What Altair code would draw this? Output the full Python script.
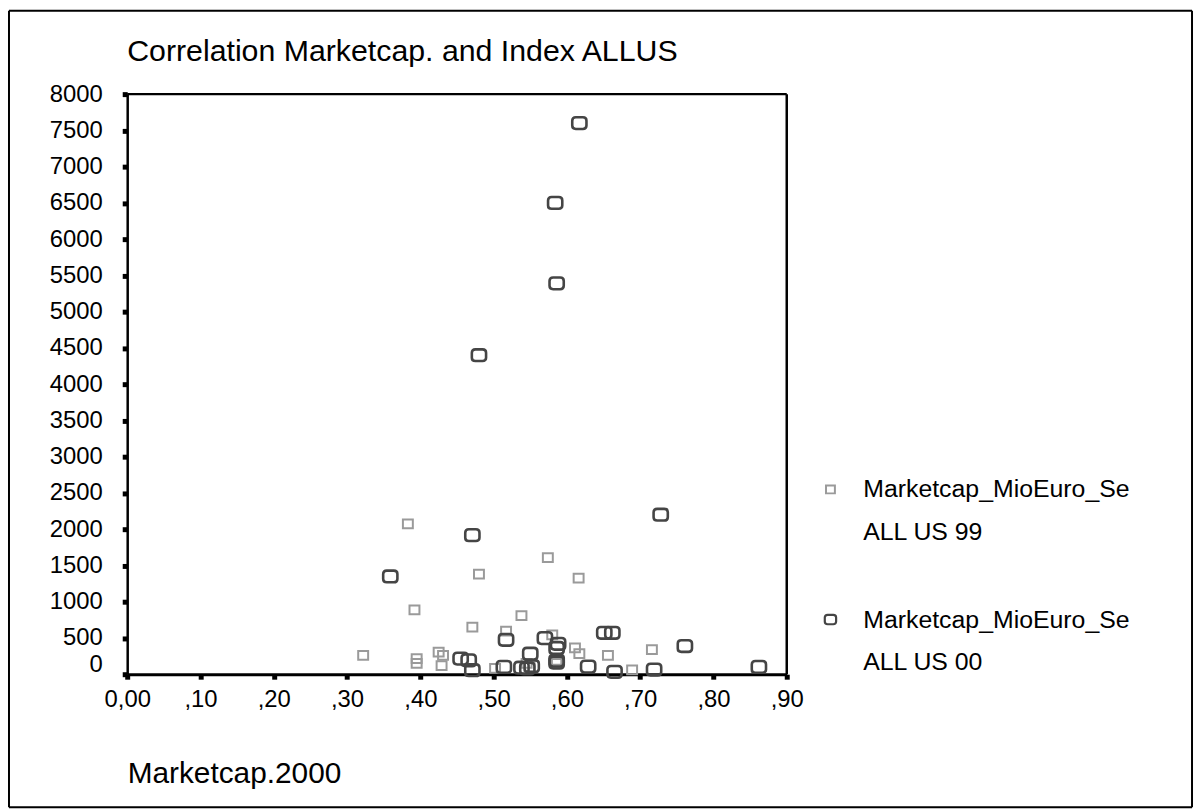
import altair as alt
import pandas as pd

# Series "Marketcap_MioEuro_Se ALL US 99" (grey squares)
x99 = [0.383, 0.480, 0.574, 0.616, 0.392, 0.538, 0.471, 0.517, 0.580, 0.611,
       0.617, 0.656, 0.716, 0.322, 0.395, 0.395, 0.425, 0.431, 0.429, 0.502,
       0.689, 0.586, 0.586, 0.545, 0.549]
y99 = [2074, 1380, 1608, 1325, 886, 808, 649, 595, 544, 362,
       283, 260, 340, 260, 215, 150, 305, 260, 120, 80,
       60, 190, 150, 150, 100]

# Series "Marketcap_MioEuro_Se ALL US 00" (dark rounded markers)
x00 = [0.617, 0.584, 0.586, 0.480, 0.471, 0.359, 0.728, 0.761, 0.455, 0.466,
       0.471, 0.517, 0.570, 0.588, 0.586, 0.586, 0.586, 0.514, 0.538, 0.546,
       0.552, 0.629, 0.651, 0.662, 0.665, 0.719, 0.862, 0.550]
y00 = [7600, 6500, 5390, 4400, 1918, 1348, 2200, 389, 215, 192,
       55, 475, 498, 420, 362, 188, 160, 101, 90, 80,
       110, 105, 571, 571, 33, 64, 101, 283]

series_names = ["Marketcap_MioEuro_Se|ALL US 99", "Marketcap_MioEuro_Se|ALL US 00"]
x_ticks = [0, 0.1, 0.2, 0.3, 0.4, 0.5, 0.6, 0.7, 0.8, 0.9]
y_ticks = list(range(0, 8001, 500))
chart_title = "Correlation Marketcap. and Index ALLUS"
x_title = "Marketcap.2000"

FONT = "Liberation Sans"
SQ = "M -1,-0.88 L 1,-0.88 L 1,0.88 L -1,0.88 Z"
RR = ("M -0.5,-0.82 L 0.5,-0.82 Q 1,-0.82 1,-0.35 L 1,0.35 Q 1,0.82 0.5,0.82 "
      "L -0.5,0.82 Q -1,0.82 -1,0.35 L -1,-0.35 Q -1,-0.82 -0.5,-0.82 Z")
GREY = "#9a9a9a"
DARK = "#454545"

W, H = 664, 584

df99 = pd.DataFrame({"x": x99, "y": y99})
df00 = pd.DataFrame({"x": x00, "y": y00})

xenc = alt.X("x:Q", scale=alt.Scale(domain=[0, 0.9], nice=False, zero=False),
             axis=alt.Axis(values=x_ticks,
                           labelExpr="datum.value === 0 ? '0,00' : replace(format(datum.value, '.2f'), '0.', ',')",
                           title=x_title, titleFont=FONT, titleFontSize=30,
                           titleFontWeight="normal", titleColor="black",
                           titleAnchor="start", titleAlign="left", titleBaseline="alphabetic",
                           titleX=0, titleY=109,
                           labelFont=FONT, labelFontSize=24, labelColor="black",
                           labelFlush=False,
                           labelPadding=9, tickSize=5, tickWidth=5, tickColor="black",
                           domainColor="black", domainWidth=3, grid=False))
yenc = alt.Y("y:Q", scale=alt.Scale(domain=[0, 8000], nice=False),
             axis=alt.Axis(values=y_ticks, format="d", title=None,
                           labelFont=FONT, labelFontSize=24, labelColor="black",
                           labelFlush=False,
                           labelPadding=20, labelBaseline="middle",
                           labelOffset={"condition": {"test": "datum.value === 0", "value": -10}, "value": 0},
                           tickSize=5, tickWidth=5, tickColor="black",
                           domainColor="black", domainWidth=2.5, grid=False))

squares = alt.Chart(df99).mark_point(shape=SQ, size=100, filled=False, stroke=GREY,
                                      strokeWidth=2, opacity=1).encode(x=xenc, y=yenc)
circles = alt.Chart(df00).mark_point(shape=RR, size=205, filled=False, stroke=DARK,
                                      strokeWidth=2.6, opacity=1).encode(x=xenc, y=yenc)

# legend (manual, two-line labels)
leg = pd.DataFrame({
    "name": series_names,
    "line1": [s.split("|")[0] for s in series_names],
    "line2": [s.split("|")[1] for s in series_names],
    "ypos": [398, 529],
})
leg_sym99 = alt.Chart(leg.iloc[[0]]).mark_point(shape=SQ, size=80, filled=False, stroke=GREY,
                                                strokeWidth=2, opacity=1).encode(
    x=alt.value(708), y=alt.value(398))
leg_sym00 = alt.Chart(leg.iloc[[1]]).mark_point(shape=RR, size=130, filled=False, stroke=DARK,
                                                strokeWidth=2.2, opacity=1).encode(
    x=alt.value(708), y=alt.value(529))
leg_t1 = alt.Chart(leg).mark_text(align="left", baseline="middle", font=FONT, fontSize=25,
                                  color="black").encode(
    x=alt.value(741), y=alt.Y("ypos:Q", scale=None), text="line1:N")
leg_t2 = alt.Chart(leg).transform_calculate(y2pos="datum.ypos + 43").mark_text(
    align="left", baseline="middle", font=FONT, fontSize=25, color="black").encode(
    x=alt.value(741), y=alt.Y("y2pos:Q", scale=None), text="line2:N")

# chart title as text
tdf = pd.DataFrame({"t": [chart_title]})
title_mark = alt.Chart(tdf).mark_text(align="left", baseline="middle", font=FONT, fontSize=30.5,
                                      color="black").encode(
    x=alt.value(0), y=alt.value(-42), text="t:N")

# outer frame and plot frame
one = pd.DataFrame({"a": [0]})
def rule(**kw):
    return alt.Chart(one).mark_rule(color="black", strokeWidth=kw.pop("sw", 2)).encode(**kw)

frames = [
    rule(x=alt.value(-119), y=alt.value(-84), y2=alt.value(718)),
    rule(x=alt.value(1072), y=alt.value(-84), y2=alt.value(718)),
    rule(x=alt.value(-119), x2=alt.value(1072), y=alt.value(-84)),
    rule(x=alt.value(-119), x2=alt.value(1072), y=alt.value(718)),
    rule(x=alt.value(0), x2=alt.value(W), y=alt.value(0), sw=2.5),
    rule(x=alt.value(W), y=alt.value(0), y2=alt.value(H), sw=2.5),
]

chart = alt.layer(squares, circles, leg_sym99, leg_sym00, leg_t1, leg_t2, title_mark, *frames).properties(
    width=W, height=H,
    background="white",
    autosize=alt.AutoSizeParams(type="none"),
    padding={"left": 120, "top": 84, "right": 410, "bottom": 136},
).configure_view(stroke=None)

chart.save("out.html", embed_options={"renderer": "svg", "actions": False})
